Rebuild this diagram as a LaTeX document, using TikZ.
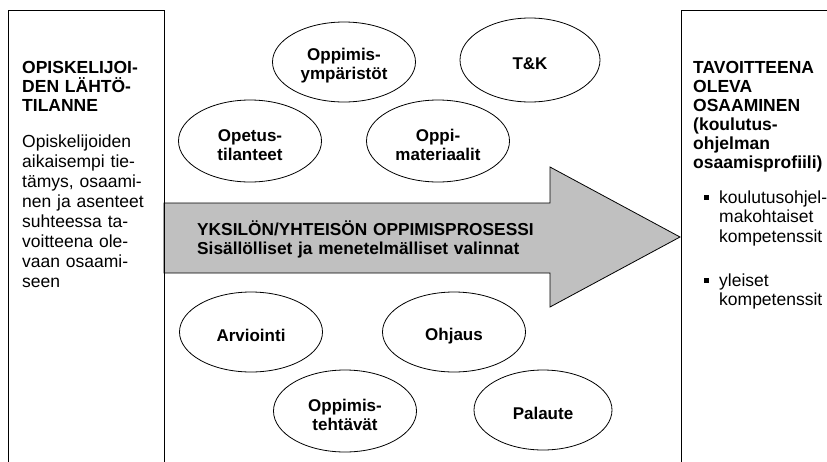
\documentclass[tikz,border=0pt]{standalone}
\usepackage{fontspec}
\setmainfont{Liberation Sans}
\usetikzlibrary{shapes.geometric}
\definecolor{arrowgray}{RGB}{192,192,192}
\newcommand{\bubblelift}{\rule{0pt}{20pt}}
\begin{document}
\begin{tikzpicture}[x=1pt,y=-1pt,
  frame/.style={draw=black, line width=1.1pt, anchor=north west, inner sep=0pt, minimum height=490pt},
  bubble/.style={ellipse, draw=black, line width=0.8pt, fill=white, minimum width=143pt, minimum height=80pt, inner sep=0pt, align=center, font=\fontsize{17}{18.5}\selectfont\bfseries},
  boxtext/.style={anchor=base west, inner sep=0pt, align=left, text width=#1},
  boxtext/.default=140pt,
  bulletmark/.style={fill=black, minimum size=5pt, inner sep=0pt}
  ]
\useasboundingbox (0,0) rectangle (827,461);
\clip (0,0) rectangle (827,461);
\fill[white] (0,0) rectangle (827,461);

% process arrow
\draw[line width=0.8pt, fill=arrowgray] (164,203) -- (550,203) -- (550,167) -- (680,237) -- (550,307) -- (550,273) -- (164,273) -- cycle;
\node[boxtext=380pt, font=\fontsize{17.3}{19}\selectfont\bfseries] (proc) at (197,235)
  {YKSILÖN/YHTEISÖN OPPIMISPROSESSI\\Sisällölliset ja menetelmälliset valinnat};

% side boxes
\node[frame, minimum width=156pt] (lbox) at (8,10) {};
\node[frame, minimum width=200pt] (rbox) at (681,10) {};

% left box text
\node[boxtext, font=\fontsize{17.5}{19}\selectfont\bfseries] (ltitle) at (22,73)
  {OPISKELIJOI-\\DEN LÄHTÖ-\\TILANNE};
\node[boxtext, font=\fontsize{17.5}{20}\selectfont] (lbody) at (22,147)
  {Opiskelijoiden\\aikaisempi tie-\\tämys, osaami-\\nen ja asenteet\\suhteessa ta-\\voitteena ole-\\vaan osaami-\\seen};

% right box text
\node[boxtext=132pt, font=\fontsize{17.5}{19}\selectfont\bfseries] (rtitle) at (693,73.3)
  {TAVOITTEENA\\OLEVA\\OSAAMINEN\\(koulutus-\\ohjelman\\osaamisprofiili)};
\node[bulletmark] (b1) at (706.5,197) {};
\node[boxtext=110pt, font=\fontsize{17.5}{19.5}\selectfont] (b1t) at (719,203)
  {koulutusohjel-\\makohtaiset\\kompetenssit};
\node[bulletmark] (b2) at (706.5,280) {};
\node[boxtext=110pt, font=\fontsize{17.5}{19.5}\selectfont] (b2t) at (719,286)
  {yleiset\\kompetenssit};

% ellipses
\node[bubble] (env) at (344,62) {\bubblelift Oppimis-\\ympäristöt};
\node[bubble, minimum width=140pt, minimum height=84pt] (tk) at (530,60) {\bubblelift T\&K};
\node[bubble, minimum height=82pt] (opetus) at (250,141) {\bubblelift Opetus-\\tilanteet};
\node[bubble, minimum height=82pt] (mat) at (438,141) {\bubblelift Oppi-\\materiaalit};
\node[bubble] (arv) at (251,332) {\bubblelift Arviointi};
\node[bubble] (ohj) at (454,332) {\bubblelift Ohjaus};
\node[bubble, minimum height=82pt] (teht) at (345,411) {\bubblelift Oppimis-\\tehtävät};
\node[bubble, minimum width=138pt] (pal) at (543,410) {\bubblelift Palaute};
\end{tikzpicture}
\end{document}
